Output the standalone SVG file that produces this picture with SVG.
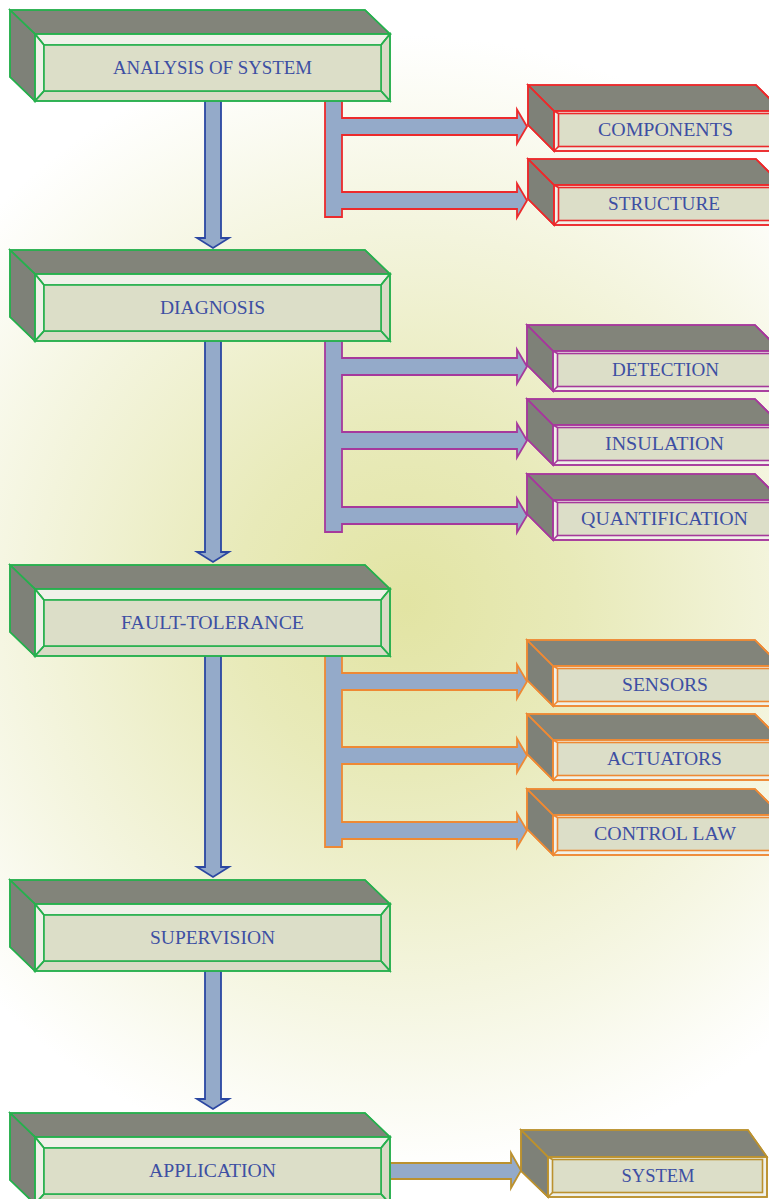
<svg xmlns="http://www.w3.org/2000/svg" width="769" height="1199" viewBox="0 0 769 1199">
  <defs>
    <radialGradient id="glow" gradientUnits="userSpaceOnUse" cx="405" cy="605" r="570">
      <stop offset="0" stop-color="#e2e4a3"/>
      <stop offset="0.3" stop-color="#e8eab9"/>
      <stop offset="0.65" stop-color="#f3f4dc"/>
      <stop offset="1" stop-color="#ffffff"/>
    </radialGradient>
    <style>
      .top { fill: #82847a; }
      .side { fill: #7e8178; }
      .face { fill: #dcdec8; }
      .lite { fill: #f0f1e9; }
      .shade { fill: #d9dbc5; }
      .edge { fill: none; stroke-width: 1.6; stroke-linejoin: miter; }
      .main .edge, .main path, .main rect { stroke: #27b04e; }
      .red path, .red rect { stroke: #ec2a2c; }
      .purple path, .purple rect { stroke: #a6399c; }
      .orange path, .orange rect { stroke: #ee8934; }
      .gold path, .gold rect { stroke: #bb912f; }
      .node path, .node rect { stroke-width: 1.6; }
      .label { font-family: "Liberation Serif", "DejaVu Serif", serif; font-size: 18px; fill: #3d4fa3; text-anchor: middle; }
      .flow { fill: #94aac9; stroke-width: 1.8; stroke-linejoin: miter; }
      .down { stroke: #2b47a2; }
    </style>
  </defs>

  <rect width="769" height="1199" fill="url(#glow)"/>

  <!-- connectors -->
  <g id="connectors">
    <!-- main chain, downward arrows -->
    <path class="flow down" d="M205,101 V238 H197 L213,248 L229,238 H221 V101"/>
    <path class="flow down" d="M205,341 V552 H197 L213,562 L229,552 H221 V341"/>
    <path class="flow down" d="M205,656 V867 H197 L213,877 L229,867 H221 V656"/>
    <path class="flow down" d="M205,971 V1099 H197 L213,1109 L229,1099 H221 V971"/>
    <!-- analysis branch -->
    <path class="flow" stroke="#ec2a2c" d="M325,101 V217 H342 V209 H517 V217.5 L527,200.5 L517,183.5 V192 H342 V135 H517 V143.5 L527,126.5 L517,109.5 V118 H342 V101"/>
    <!-- diagnosis branch -->
    <path class="flow" stroke="#a6399c" d="M325,341 V532 H342 V524 H517 V532.5 L527,515.5 L517,498.5 V507 H342 V449 H517 V457.5 L527,440.5 L517,423.5 V432 H342 V375 H517 V383.5 L527,366.5 L517,349.5 V358 H342 V341"/>
    <!-- fault-tolerance branch -->
    <path class="flow" stroke="#ee8934" d="M325,656 V847 H342 V839 H517 V847.5 L527,830.5 L517,813.5 V822 H342 V764 H517 V772.5 L527,755.5 L517,738.5 V747 H342 V690 H517 V698.5 L527,681.5 L517,664.5 V673 H342 V656"/>
    <!-- application to system -->
    <path class="flow" stroke="#bb912f" d="M390,1163 H511 V1153 L521,1170.5 L511,1188 V1179 H390"/>
  </g>

  <!-- main column boxes -->
  <g id="analysis" class="node main" transform="translate(10,10)">
    <path class="top" d="M0,0 H355 L380,24 H25 Z"/>
    <path class="side" d="M0,0 L25,24 V91 L0,67 Z"/>
    <path class="lite" d="M25,24 H380 L371,35 H34 Z"/>
    <path class="lite" d="M25,24 L34,35 V81 L25,91 Z"/>
    <path class="shade" d="M380,24 L371,35 V81 L380,91 Z"/>
    <path class="shade" d="M25,91 L34,81 H371 L380,91 Z"/>
    <rect class="face" x="34" y="35" width="337" height="46"/>
    <path class="edge" d="M0,0 H355 L380,24 V91 H25 L0,67 Z M0,0 L25,24 H380 M25,24 V91 M25,24 L34,35 M380,24 L371,35 M25,91 L34,81 M380,91 L371,81"/>
    <text class="label" x="202.5" y="64" textLength="199" lengthAdjust="spacingAndGlyphs">ANALYSIS OF SYSTEM</text>
  </g>

  <g id="diagnosis" class="node main" transform="translate(10,250)">
    <path class="top" d="M0,0 H355 L380,24 H25 Z"/>
    <path class="side" d="M0,0 L25,24 V91 L0,67 Z"/>
    <path class="lite" d="M25,24 H380 L371,35 H34 Z"/>
    <path class="lite" d="M25,24 L34,35 V81 L25,91 Z"/>
    <path class="shade" d="M380,24 L371,35 V81 L380,91 Z"/>
    <path class="shade" d="M25,91 L34,81 H371 L380,91 Z"/>
    <rect class="face" x="34" y="35" width="337" height="46"/>
    <path class="edge" d="M0,0 H355 L380,24 V91 H25 L0,67 Z M0,0 L25,24 H380 M25,24 V91 M25,24 L34,35 M380,24 L371,35 M25,91 L34,81 M380,91 L371,81"/>
    <text class="label" x="202.5" y="64" textLength="105" lengthAdjust="spacingAndGlyphs">DIAGNOSIS</text>
  </g>

  <g id="fault-tolerance" class="node main" transform="translate(10,565)">
    <path class="top" d="M0,0 H355 L380,24 H25 Z"/>
    <path class="side" d="M0,0 L25,24 V91 L0,67 Z"/>
    <path class="lite" d="M25,24 H380 L371,35 H34 Z"/>
    <path class="lite" d="M25,24 L34,35 V81 L25,91 Z"/>
    <path class="shade" d="M380,24 L371,35 V81 L380,91 Z"/>
    <path class="shade" d="M25,91 L34,81 H371 L380,91 Z"/>
    <rect class="face" x="34" y="35" width="337" height="46"/>
    <path class="edge" d="M0,0 H355 L380,24 V91 H25 L0,67 Z M0,0 L25,24 H380 M25,24 V91 M25,24 L34,35 M380,24 L371,35 M25,91 L34,81 M380,91 L371,81"/>
    <text class="label" x="202.5" y="64" textLength="183" lengthAdjust="spacingAndGlyphs">FAULT-TOLERANCE</text>
  </g>

  <g id="supervision" class="node main" transform="translate(10,880)">
    <path class="top" d="M0,0 H355 L380,24 H25 Z"/>
    <path class="side" d="M0,0 L25,24 V91 L0,67 Z"/>
    <path class="lite" d="M25,24 H380 L371,35 H34 Z"/>
    <path class="lite" d="M25,24 L34,35 V81 L25,91 Z"/>
    <path class="shade" d="M380,24 L371,35 V81 L380,91 Z"/>
    <path class="shade" d="M25,91 L34,81 H371 L380,91 Z"/>
    <rect class="face" x="34" y="35" width="337" height="46"/>
    <path class="edge" d="M0,0 H355 L380,24 V91 H25 L0,67 Z M0,0 L25,24 H380 M25,24 V91 M25,24 L34,35 M380,24 L371,35 M25,91 L34,81 M380,91 L371,81"/>
    <text class="label" x="202.5" y="64" textLength="125" lengthAdjust="spacingAndGlyphs">SUPERVISION</text>
  </g>

  <g id="application" class="node main" transform="translate(10,1113)">
    <path class="top" d="M0,0 H355 L380,24 H25 Z"/>
    <path class="side" d="M0,0 L25,24 V91 L0,67 Z"/>
    <path class="lite" d="M25,24 H380 L371,35 H34 Z"/>
    <path class="lite" d="M25,24 L34,35 V81 L25,91 Z"/>
    <path class="shade" d="M380,24 L371,35 V81 L380,91 Z"/>
    <path class="shade" d="M25,91 L34,81 H371 L380,91 Z"/>
    <rect class="face" x="34" y="35" width="337" height="46"/>
    <path class="edge" d="M0,0 H355 L380,24 V91 H25 L0,67 Z M0,0 L25,24 H380 M25,24 V91 M25,24 L34,35 M380,24 L371,35 M25,91 L34,81 M380,91 L371,81"/>
    <text class="label" x="202.5" y="64" textLength="127" lengthAdjust="spacingAndGlyphs">APPLICATION</text>
  </g>

  <!-- side boxes -->
  <g id="components" class="node red" transform="translate(528,85)">
    <path class="top" d="M0,0 H228 L254,26 H26 Z"/>
    <path class="side" d="M0,0 L26,26 V66 L0,40 Z"/>
    <rect class="lite" x="26" y="26" width="228" height="40"/>
    <rect class="face" x="30.5" y="28.5" width="219" height="33"/>
    <path class="edge" d="M0,0 H228 L254,26 V66 H26 L0,40 Z M0,0 L26,26 H254 M26,26 V66 M26,26 L30.5,28.5 M26,66 L30.5,61.5"/>
    <text class="label" x="137.5" y="51" textLength="135" lengthAdjust="spacingAndGlyphs">COMPONENTS</text>
  </g>

  <g id="structure" class="node red" transform="translate(528,159)">
    <path class="top" d="M0,0 H228 L254,26 H26 Z"/>
    <path class="side" d="M0,0 L26,26 V66 L0,40 Z"/>
    <rect class="lite" x="26" y="26" width="228" height="40"/>
    <rect class="face" x="30.5" y="28.5" width="219" height="33"/>
    <path class="edge" d="M0,0 H228 L254,26 V66 H26 L0,40 Z M0,0 L26,26 H254 M26,26 V66 M26,26 L30.5,28.5 M26,66 L30.5,61.5"/>
    <text class="label" x="136" y="51" textLength="112" lengthAdjust="spacingAndGlyphs">STRUCTURE</text>
  </g>

  <g id="detection" class="node purple" transform="translate(527,325)">
    <path class="top" d="M0,0 H228 L254,26 H26 Z"/>
    <path class="side" d="M0,0 L26,26 V66 L0,40 Z"/>
    <rect class="lite" x="26" y="26" width="228" height="40"/>
    <rect class="face" x="30.5" y="28.5" width="219" height="33"/>
    <path class="edge" d="M0,0 H228 L254,26 V66 H26 L0,40 Z M0,0 L26,26 H254 M26,26 V66 M26,26 L30.5,28.5 M26,66 L30.5,61.5"/>
    <text class="label" x="138.5" y="51" textLength="107" lengthAdjust="spacingAndGlyphs">DETECTION</text>
  </g>

  <g id="insulation" class="node purple" transform="translate(527,399)">
    <path class="top" d="M0,0 H228 L254,26 H26 Z"/>
    <path class="side" d="M0,0 L26,26 V66 L0,40 Z"/>
    <rect class="lite" x="26" y="26" width="228" height="40"/>
    <rect class="face" x="30.5" y="28.5" width="219" height="33"/>
    <path class="edge" d="M0,0 H228 L254,26 V66 H26 L0,40 Z M0,0 L26,26 H254 M26,26 V66 M26,26 L30.5,28.5 M26,66 L30.5,61.5"/>
    <text class="label" x="137.5" y="51" textLength="119" lengthAdjust="spacingAndGlyphs">INSULATION</text>
  </g>

  <g id="quantification" class="node purple" transform="translate(527,474)">
    <path class="top" d="M0,0 H228 L254,26 H26 Z"/>
    <path class="side" d="M0,0 L26,26 V66 L0,40 Z"/>
    <rect class="lite" x="26" y="26" width="228" height="40"/>
    <rect class="face" x="30.5" y="28.5" width="219" height="33"/>
    <path class="edge" d="M0,0 H228 L254,26 V66 H26 L0,40 Z M0,0 L26,26 H254 M26,26 V66 M26,26 L30.5,28.5 M26,66 L30.5,61.5"/>
    <text class="label" x="137.5" y="51" textLength="167" lengthAdjust="spacingAndGlyphs">QUANTIFICATION</text>
  </g>

  <g id="sensors" class="node orange" transform="translate(527,640)">
    <path class="top" d="M0,0 H228 L254,26 H26 Z"/>
    <path class="side" d="M0,0 L26,26 V66 L0,40 Z"/>
    <rect class="lite" x="26" y="26" width="228" height="40"/>
    <rect class="face" x="30.5" y="28.5" width="219" height="33"/>
    <path class="edge" d="M0,0 H228 L254,26 V66 H26 L0,40 Z M0,0 L26,26 H254 M26,26 V66 M26,26 L30.5,28.5 M26,66 L30.5,61.5"/>
    <text class="label" x="138" y="51" textLength="86" lengthAdjust="spacingAndGlyphs">SENSORS</text>
  </g>

  <g id="actuators" class="node orange" transform="translate(527,714)">
    <path class="top" d="M0,0 H228 L254,26 H26 Z"/>
    <path class="side" d="M0,0 L26,26 V66 L0,40 Z"/>
    <rect class="lite" x="26" y="26" width="228" height="40"/>
    <rect class="face" x="30.5" y="28.5" width="219" height="33"/>
    <path class="edge" d="M0,0 H228 L254,26 V66 H26 L0,40 Z M0,0 L26,26 H254 M26,26 V66 M26,26 L30.5,28.5 M26,66 L30.5,61.5"/>
    <text class="label" x="137.5" y="51" textLength="115" lengthAdjust="spacingAndGlyphs">ACTUATORS</text>
  </g>

  <g id="control-law" class="node orange" transform="translate(527,789)">
    <path class="top" d="M0,0 H228 L254,26 H26 Z"/>
    <path class="side" d="M0,0 L26,26 V66 L0,40 Z"/>
    <rect class="lite" x="26" y="26" width="228" height="40"/>
    <rect class="face" x="30.5" y="28.5" width="219" height="33"/>
    <path class="edge" d="M0,0 H228 L254,26 V66 H26 L0,40 Z M0,0 L26,26 H254 M26,26 V66 M26,26 L30.5,28.5 M26,66 L30.5,61.5"/>
    <text class="label" x="138" y="51" textLength="142" lengthAdjust="spacingAndGlyphs">CONTROL LAW</text>
  </g>

  <g id="system" class="node gold" transform="translate(521,1130)">
    <path class="top" d="M0,0 H227 L246,27 H27 Z"/>
    <path class="side" d="M0,0 L27,27 V67 L0,41 Z"/>
    <rect class="lite" x="27" y="27" width="219" height="40"/>
    <rect class="face" x="31.5" y="29.5" width="210" height="33"/>
    <path class="edge" d="M0,0 H227 L246,27 V67 H27 L0,41 Z M0,0 L27,27 H246 M27,27 V67 M27,27 L31.5,29.5 M27,67 L31.5,62.5"/>
    <text class="label" x="137" y="52" textLength="73" lengthAdjust="spacingAndGlyphs">SYSTEM</text>
  </g>
</svg>
